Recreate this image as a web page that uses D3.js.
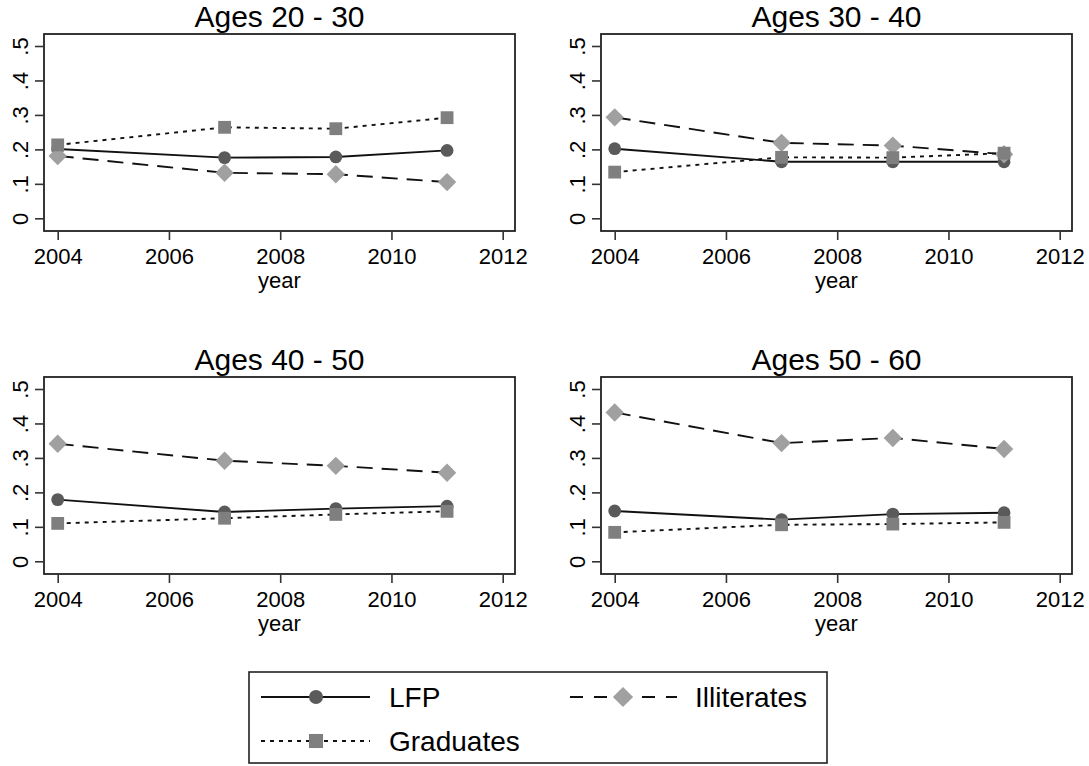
<!DOCTYPE html>
<html>
<head>
<meta charset="utf-8">
<script src="https://cdn.jsdelivr.net/npm/d3@7/dist/d3.min.js"></script>
<style>
  html, body { margin: 0; padding: 0; background: #fff; }
  svg { display: block; font-family: "Liberation Sans", Arial, sans-serif; }
</style>
</head>
<body>
<svg id="chart" width="1089" height="766"></svg>
<script>
// ---- Data ----
const years = [2004, 2007, 2009, 2011];
const panelTitles = ["Ages 20 - 30", "Ages 30 - 40", "Ages 40 - 50", "Ages 50 - 60"];
const xTickValues = [2004, 2006, 2008, 2010, 2012];
const yTickValues = [0, 0.1, 0.2, 0.3, 0.4, 0.5];
const yTickLabels = ["0", ".1", ".2", ".3", ".4", ".5"];
const seriesNames = ["LFP", "Graduates", "Illiterates"];

const lfp = [
  [0.201, 0.176, 0.178, 0.197],
  [0.202, 0.164, 0.164, 0.164],
  [0.179, 0.143, 0.153, 0.160],
  [0.146, 0.121, 0.137, 0.141]
];
const graduates = [
  [0.213, 0.264, 0.260, 0.292],
  [0.134, 0.177, 0.176, 0.189],
  [0.110, 0.125, 0.136, 0.145],
  [0.084, 0.106, 0.108, 0.113]
];
const illiterates = [
  [0.181, 0.132, 0.128, 0.105],
  [0.293, 0.219, 0.211, 0.186],
  [0.341, 0.292, 0.277, 0.257],
  [0.432, 0.343, 0.358, 0.326]
];

// ---- Styles ----
const styles = {
  LFP:         { dash: null,    legendDash: null,    fill: "#5a5a5a", shape: "circle" },
  Graduates:   { dash: "4,5",   legendDash: "4,5",   fill: "#7f7f7f", shape: "square" },
  Illiterates: { dash: "16,9",  legendDash: "13,11", fill: "#a0a0a0", shape: "diamond" }
};
const seriesData = { LFP: lfp, Graduates: graduates, Illiterates: illiterates };
const drawOrder = ["LFP", "Illiterates", "Graduates"];

const svg = d3.select("#chart");
const boxW = 471, boxH = 197;
const origins = [[44, 34], [601, 34], [44, 377], [601, 377]];

function drawMarker(g, shape, cx, cy, fill, scale) {
  const s = scale || 1;
  if (shape === "circle") {
    g.append("circle").attr("cx", cx).attr("cy", cy).attr("r", 6.4 * s).attr("fill", fill);
  } else if (shape === "square") {
    const h = 6.4 * s;
    g.append("rect").attr("x", cx - h).attr("y", cy - h).attr("width", 2 * h).attr("height", 2 * h).attr("fill", fill);
  } else {
    const h = 9.2 * s;
    g.append("path").attr("d", `M${cx},${cy - h}L${cx + h},${cy}L${cx},${cy + h}L${cx - h},${cy}Z`).attr("fill", fill);
  }
}

panelTitles.forEach((title, i) => {
  const [ox, oy] = origins[i];
  const g = svg.append("g");
  const x = d3.scaleLinear().domain([2004, 2012]).range([ox + 13.7, ox + 458.7]);
  const y = d3.scaleLinear().domain([0, 0.5]).range([oy + 184.3, oy + 12]);

  // title
  g.append("text").attr("x", ox + boxW / 2).attr("y", oy - 7)
    .attr("text-anchor", "middle").attr("font-size", 30).attr("fill", "#000").text(title);

  // box
  g.append("rect").attr("x", ox).attr("y", oy).attr("width", boxW).attr("height", boxH)
    .attr("fill", "none").attr("stroke", "#222").attr("stroke-width", 1.8);

  // x axis
  const xa = g.append("g").attr("transform", `translate(0,${oy + boxH})`)
    .call(d3.axisBottom(x).tickValues(xTickValues).tickFormat(d3.format("d")).tickSize(9).tickPadding(6));
  xa.select(".domain").remove();
  xa.selectAll(".tick line").attr("stroke", "#333").attr("stroke-width", 1.6);
  xa.selectAll(".tick text").attr("font-size", 22).attr("fill", "#000")
    .attr("font-family", "Liberation Sans, Arial, sans-serif").attr("dy", "0.8em");

  g.append("text").attr("x", ox + boxW / 2).attr("y", oy + boxH + 57)
    .attr("text-anchor", "middle").attr("font-size", 22).attr("fill", "#000").text("year");

  // y axis
  const ya = g.append("g").attr("transform", `translate(${ox},0)`)
    .call(d3.axisLeft(y).tickValues(yTickValues).tickFormat((d, k) => yTickLabels[k]).tickSize(9));
  ya.select(".domain").remove();
  ya.selectAll(".tick line").attr("stroke", "#333").attr("stroke-width", 1.6);
  ya.selectAll(".tick text").attr("font-size", 22).attr("fill", "#000")
    .attr("font-family", "Liberation Sans, Arial, sans-serif")
    .attr("transform", "rotate(-90)").attr("x", 0).attr("y", -16).attr("dy", 0)
    .attr("text-anchor", "middle");

  // series
  const line = d3.line().x(d => x(d[0])).y(d => y(d[1]));
  drawOrder.forEach(name => {
    const vals = seriesData[name][i];
    const pts = years.map((yr, k) => [yr, vals[k]]);
    const st = styles[name];
    g.append("path").datum(pts).attr("d", line).attr("fill", "none")
      .attr("stroke", "#111").attr("stroke-width", 1.9)
      .attr("stroke-dasharray", st.dash);
    pts.forEach(p => drawMarker(g, st.shape, x(p[0]), y(p[1]), st.fill));
  });
});

// ---- Legend ----
const lg = svg.append("g");
lg.append("rect").attr("x", 249).attr("y", 672).attr("width", 578).attr("height", 91)
  .attr("fill", "#fff").attr("stroke", "#222").attr("stroke-width", 1.6);

const legendItems = [
  { name: "LFP", x1: 261, x2: 370, cx: 316, ty: 697, tx: 389 },
  { name: "Illiterates", x1: 570, x2: 677, cx: 623, ty: 697, tx: 695 },
  { name: "Graduates", x1: 261, x2: 370, cx: 316, ty: 741, tx: 389 }
];
legendItems.forEach(it => {
  const st = styles[it.name];
  lg.append("line").attr("x1", it.x1).attr("x2", it.x2).attr("y1", it.ty).attr("y2", it.ty)
    .attr("stroke", "#111").attr("stroke-width", 1.9).attr("stroke-dasharray", st.legendDash);
  drawMarker(lg, st.shape, it.cx, it.ty, st.fill, 1.1);
  lg.append("text").attr("x", it.tx).attr("y", it.ty + 10).attr("font-size", 28).attr("fill", "#000").text(it.name);
});
</script>
</body>
</html>
